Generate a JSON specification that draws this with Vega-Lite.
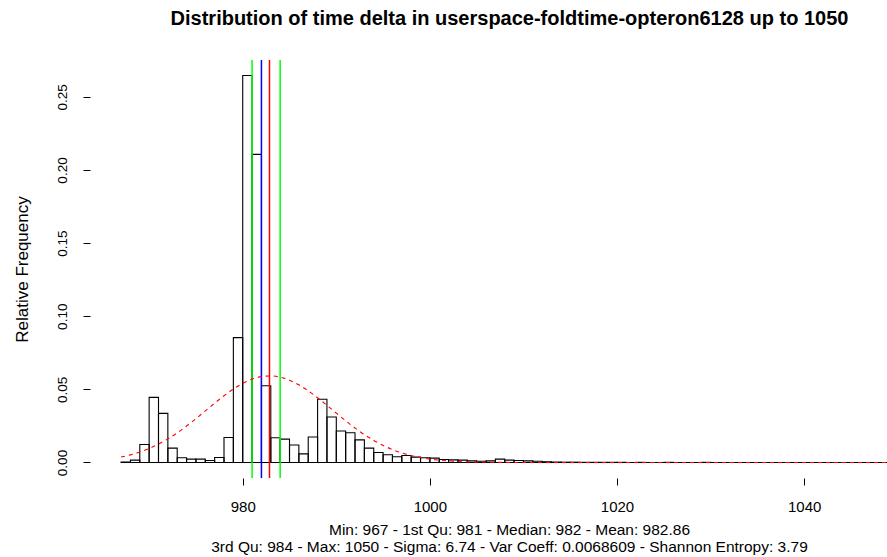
{
  "$schema": "https://vega.github.io/schema/vega-lite/v6.json",
  "width": 797,
  "height": 418,
  "autosize": {"type": "none"},
  "padding": {"left": 90, "top": 60, "right": 0, "bottom": 79},
  "background": "white",
  "config": {"view": {"stroke": null}, "font": "Liberation Sans"},
  "title": {
    "text": "Distribution of time delta in userspace-foldtime-opteron6128 up to 1050",
    "fontSize": 20, "fontWeight": "bold", "font": "Liberation Sans", "color": "black",
    "anchor": "middle", "dx": 21, "dy": 20, "offset": 34, "baseline": "alphabetic"
  },
  "datasets": {
    "bins": [
      {"lo": 967, "hi": 968, "rf": 0.0003},
      {"lo": 968, "hi": 969, "rf": 0.0016},
      {"lo": 969, "hi": 970, "rf": 0.0123},
      {"lo": 970, "hi": 971, "rf": 0.0445},
      {"lo": 971, "hi": 972, "rf": 0.0336},
      {"lo": 972, "hi": 973, "rf": 0.0098},
      {"lo": 973, "hi": 974, "rf": 0.0032},
      {"lo": 974, "hi": 975, "rf": 0.0023},
      {"lo": 975, "hi": 976, "rf": 0.0023},
      {"lo": 976, "hi": 977, "rf": 0.0014},
      {"lo": 977, "hi": 978, "rf": 0.0034},
      {"lo": 978, "hi": 979, "rf": 0.0171},
      {"lo": 979, "hi": 980, "rf": 0.0854},
      {"lo": 980, "hi": 981, "rf": 0.2646},
      {"lo": 981, "hi": 982, "rf": 0.2107},
      {"lo": 982, "hi": 983, "rf": 0.0525},
      {"lo": 983, "hi": 984, "rf": 0.0169},
      {"lo": 984, "hi": 985, "rf": 0.016},
      {"lo": 985, "hi": 986, "rf": 0.012},
      {"lo": 986, "hi": 987, "rf": 0.0059},
      {"lo": 987, "hi": 988, "rf": 0.0174},
      {"lo": 988, "hi": 989, "rf": 0.0432},
      {"lo": 989, "hi": 990, "rf": 0.0311},
      {"lo": 990, "hi": 991, "rf": 0.0215},
      {"lo": 991, "hi": 992, "rf": 0.0203},
      {"lo": 992, "hi": 993, "rf": 0.0155},
      {"lo": 993, "hi": 994, "rf": 0.0098},
      {"lo": 994, "hi": 995, "rf": 0.0068},
      {"lo": 995, "hi": 996, "rf": 0.0053},
      {"lo": 996, "hi": 997, "rf": 0.0039},
      {"lo": 997, "hi": 998, "rf": 0.0048},
      {"lo": 998, "hi": 999, "rf": 0.0037},
      {"lo": 999, "hi": 1000, "rf": 0.0032},
      {"lo": 1000, "hi": 1001, "rf": 0.003},
      {"lo": 1001, "hi": 1002, "rf": 0.002},
      {"lo": 1002, "hi": 1003, "rf": 0.0018},
      {"lo": 1003, "hi": 1004, "rf": 0.0016},
      {"lo": 1004, "hi": 1005, "rf": 0.0011},
      {"lo": 1005, "hi": 1006, "rf": 0.0009},
      {"lo": 1006, "hi": 1007, "rf": 0.0011},
      {"lo": 1007, "hi": 1008, "rf": 0.0023},
      {"lo": 1008, "hi": 1009, "rf": 0.0016},
      {"lo": 1009, "hi": 1010, "rf": 0.0014},
      {"lo": 1010, "hi": 1011, "rf": 0.0011},
      {"lo": 1011, "hi": 1012, "rf": 0.0009},
      {"lo": 1012, "hi": 1013, "rf": 0.0005},
      {"lo": 1013, "hi": 1014, "rf": 0.0003},
      {"lo": 1014, "hi": 1015, "rf": 0.0002},
      {"lo": 1015, "hi": 1016, "rf": 0.0002},
      {"lo": 1016, "hi": 1017, "rf": 0.0001},
      {"lo": 1017, "hi": 1018, "rf": 0.0001},
      {"lo": 1018, "hi": 1019, "rf": 0.0001},
      {"lo": 1019, "hi": 1020, "rf": 0.0001},
      {"lo": 1020, "hi": 1021, "rf": 0.0001},
      {"lo": 1021, "hi": 1022, "rf": 0},
      {"lo": 1022, "hi": 1023, "rf": 0.0001},
      {"lo": 1023, "hi": 1024, "rf": 0},
      {"lo": 1024, "hi": 1025, "rf": 0},
      {"lo": 1025, "hi": 1026, "rf": 0.0001},
      {"lo": 1026, "hi": 1027, "rf": 0},
      {"lo": 1027, "hi": 1028, "rf": 0},
      {"lo": 1028, "hi": 1029, "rf": 0},
      {"lo": 1029, "hi": 1030, "rf": 0.0001},
      {"lo": 1030, "hi": 1031, "rf": 0},
      {"lo": 1031, "hi": 1032, "rf": 0},
      {"lo": 1032, "hi": 1033, "rf": 0},
      {"lo": 1033, "hi": 1034, "rf": 0},
      {"lo": 1034, "hi": 1035, "rf": 0},
      {"lo": 1035, "hi": 1036, "rf": 0},
      {"lo": 1036, "hi": 1037, "rf": 0},
      {"lo": 1037, "hi": 1038, "rf": 0},
      {"lo": 1038, "hi": 1039, "rf": 0},
      {"lo": 1039, "hi": 1040, "rf": 0},
      {"lo": 1040, "hi": 1041, "rf": 0},
      {"lo": 1041, "hi": 1042, "rf": 0},
      {"lo": 1042, "hi": 1043, "rf": 0},
      {"lo": 1043, "hi": 1044, "rf": 0},
      {"lo": 1044, "hi": 1045, "rf": 0},
      {"lo": 1045, "hi": 1046, "rf": 0},
      {"lo": 1046, "hi": 1047, "rf": 0},
      {"lo": 1047, "hi": 1048, "rf": 0},
      {"lo": 1048, "hi": 1049, "rf": 0},
      {"lo": 1049, "hi": 1050, "rf": 0.0001}
    ],
    "normal": [
      {"x": 967, "d": 0.00372},
      {"x": 968, "d": 0.00521},
      {"x": 969, "d": 0.00715},
      {"x": 970, "d": 0.00959},
      {"x": 971, "d": 0.01259},
      {"x": 972, "d": 0.01616},
      {"x": 973, "d": 0.0203},
      {"x": 974, "d": 0.02495},
      {"x": 975, "d": 0.02999},
      {"x": 976, "d": 0.03526},
      {"x": 977, "d": 0.04056},
      {"x": 978, "d": 0.04564},
      {"x": 979, "d": 0.05024},
      {"x": 980, "d": 0.0541},
      {"x": 981, "d": 0.05698},
      {"x": 982, "d": 0.05871},
      {"x": 983, "d": 0.05918},
      {"x": 984, "d": 0.05835},
      {"x": 985, "d": 0.05628},
      {"x": 986, "d": 0.0531},
      {"x": 987, "d": 0.04901},
      {"x": 988, "d": 0.04426},
      {"x": 989, "d": 0.03909},
      {"x": 990, "d": 0.03377},
      {"x": 991, "d": 0.02854},
      {"x": 992, "d": 0.0236},
      {"x": 993, "d": 0.01909},
      {"x": 994, "d": 0.0151},
      {"x": 995, "d": 0.01169},
      {"x": 996, "d": 0.00885},
      {"x": 997, "d": 0.00656},
      {"x": 998, "d": 0.00475},
      {"x": 999, "d": 0.00337},
      {"x": 1000, "d": 0.00233},
      {"x": 1001, "d": 0.00158},
      {"x": 1002, "d": 0.00105},
      {"x": 1003, "d": 0.00068},
      {"x": 1004, "d": 0.00043},
      {"x": 1005, "d": 0.00027},
      {"x": 1006, "d": 0.00016},
      {"x": 1008, "d": 0.00006},
      {"x": 1010, "d": 0.00002},
      {"x": 1015, "d": 0},
      {"x": 1030, "d": 0},
      {"x": 1050, "d": 0}
    ],
    "q13": [
      {"stat": "1st Qu", "v": 981},
      {"stat": "3rd Qu", "v": 984}
    ],
    "med": [
      {"stat": "Median", "v": 982}
    ],
    "avg": [
      {"stat": "Mean", "v": 982.86}
    ]
  },
  "layer": [
    {
      "data": {"name": "bins"},
      "mark": {"type": "rect", "filled": false, "stroke": "black", "strokeWidth": 1.1, "clip": true},
      "encoding": {
        "x": {
          "field": "lo", "type": "quantitative",
          "scale": {"domain": [963.68, 1048.85], "nice": false, "zero": false},
          "axis": {
            "values": [980, 1000, 1020, 1040], "format": "d",
            "domain": false, "grid": false,
            "tickSize": 7, "tickColor": "black", "tickWidth": 1,
            "labelFont": "Liberation Sans", "labelFontSize": 15, "labelColor": "black", "labelPadding": 14,
            "title": ["Min: 967 - 1st Qu: 981 - Median: 982 - Mean: 982.86", "3rd Qu: 984 - Max: 1050 - Sigma: 6.74 - Var Coeff: 0.0068609 - Shannon Entropy: 3.79"],
            "titleFont": "Liberation Sans", "titleFontSize": 15.5, "titleFontWeight": "normal", "titleColor": "black",
            "titlePadding": 8, "titleX": 419, "titleLineHeight": 17
          }
        },
        "x2": {"field": "hi"},
        "y": {
          "field": "rf", "type": "quantitative",
          "scale": {"domain": [-0.0106, 0.2752], "nice": false, "zero": false},
          "axis": {
            "values": [0, 0.05, 0.1, 0.15, 0.2, 0.25], "format": ".2f",
            "domain": false, "grid": false,
            "tickSize": 7, "tickColor": "black", "tickWidth": 1,
            "labelFont": "Liberation Sans", "labelFontSize": 13.5, "labelColor": "black",
            "labelAngle": -90, "labelAlign": "center", "labelBaseline": "bottom", "labelPadding": 14,
            "title": "Relative Frequency",
            "titleFont": "Liberation Sans", "titleFontSize": 17, "titleFontWeight": "normal", "titleColor": "black",
            "titleAngle": -90, "titleAlign": "center", "titleBaseline": "middle", "titleX": -68, "titleY": 209
          }
        },
        "y2": {"datum": 0}
      }
    },
    {
      "mark": {"type": "rule", "color": "black", "strokeWidth": 1},
      "encoding": {"x": {"datum": 980}, "x2": {"datum": 1040}, "y": {"datum": -0.0106}}
    },
    {
      "mark": {"type": "rule", "color": "black", "strokeWidth": 1},
      "encoding": {"x": {"datum": 963.68}, "y": {"datum": 0}, "y2": {"datum": 0.25}}
    },
    {
      "data": {"name": "q13"},
      "mark": {"type": "rule", "strokeWidth": 1.5, "stroke": "#00ff00"},
      "encoding": {"x": {"field": "v", "type": "quantitative"}}
    },
    {
      "data": {"name": "med"},
      "mark": {"type": "rule", "strokeWidth": 1.5, "stroke": "#0000ff"},
      "encoding": {"x": {"field": "v", "type": "quantitative"}}
    },
    {
      "data": {"name": "avg"},
      "mark": {"type": "rule", "strokeWidth": 1.5, "stroke": "#ff0000"},
      "encoding": {"x": {"field": "v", "type": "quantitative"}}
    },
    {
      "data": {"name": "normal"},
      "mark": {"type": "line", "color": "#ff0000", "strokeWidth": 1.1, "strokeDash": [4, 4], "interpolate": "monotone", "clip": true},
      "encoding": {
        "x": {"field": "x", "type": "quantitative"},
        "y": {"field": "d", "type": "quantitative"}
      }
    }
  ]
}
